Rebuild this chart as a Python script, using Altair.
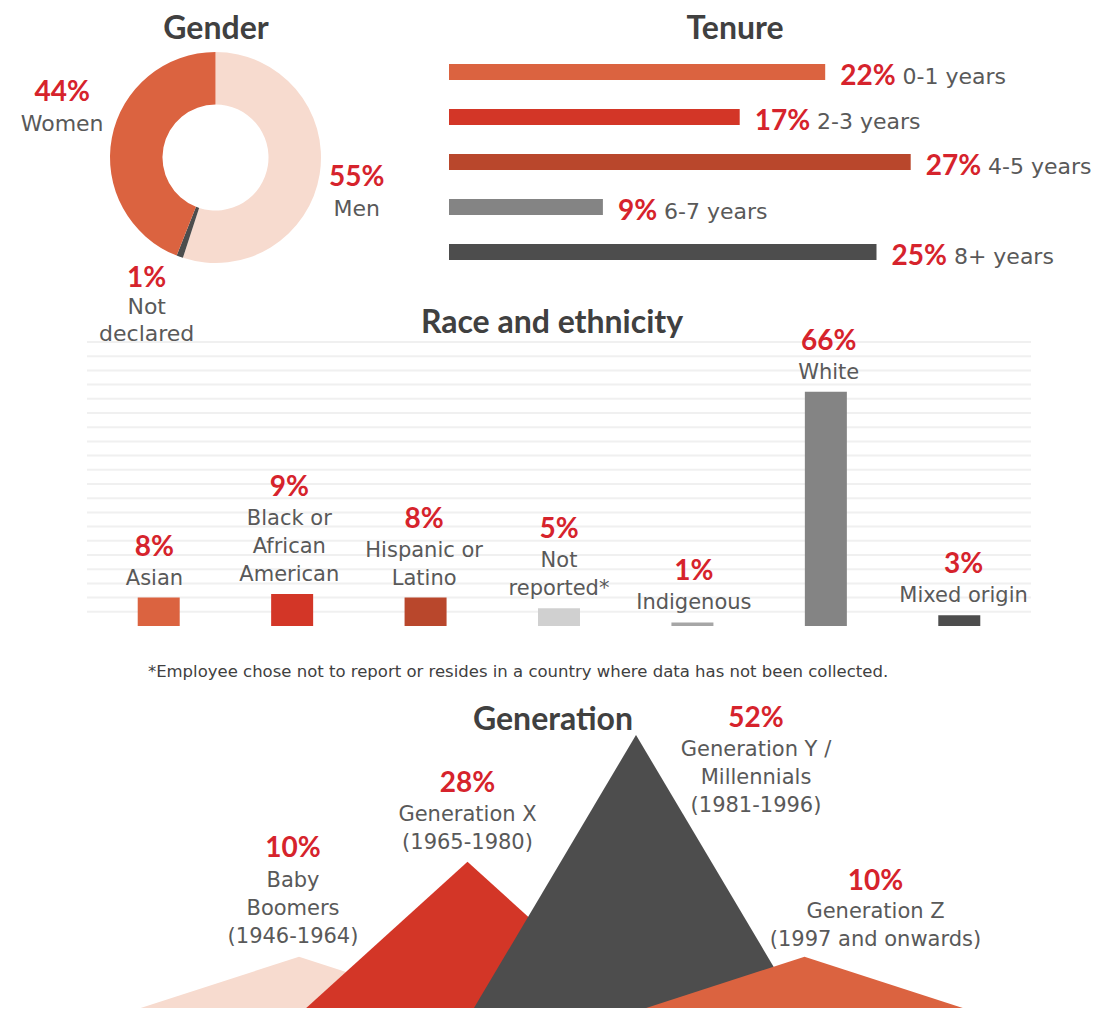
import altair as alt
import pandas as pd

# ---------------- data ----------------
GENDER_CATS = ["Men", "Not declared", "Women"]
GENDER_NAMES = ["Men", "Not\ndeclared", "Women"]
GENDER_PCT = [55, 1, 44]

TENURE_CATS = ["0-1 years", "2-3 years", "4-5 years", "6-7 years", "8+ years"]
TENURE_PCT = [22, 17, 27, 9, 25]

RACE_CATS = ["Asian", "Black or African American", "Hispanic or Latino",
             "Not reported*", "Indigenous", "White", "Mixed origin"]
RACE_NAMES = ["Asian", "Black or\nAfrican\nAmerican", "Hispanic or\nLatino",
              "Not\nreported*", "Indigenous", "White", "Mixed origin"]
RACE_PCT = [8, 9, 8, 5, 1, 66, 3]
RACE_GRID = [4, 8, 12, 16, 20, 24, 28, 32, 36, 40, 44, 48, 52, 56, 60, 64, 68, 72, 76, 80]

GEN_CATS = ["Baby Boomers", "Generation X", "Generation Y", "Generation Z"]
GEN_NAMES = ["Baby\nBoomers\n(1946-1964)", "Generation X\n(1965-1980)",
             "Generation Y /\nMillennials\n(1981-1996)", "Generation Z\n(1997 and onwards)"]
GEN_PCT = [10, 28, 52, 10]

TITLES = ["Gender", "Tenure", "Race and ethnicity", "Generation"]
FOOTNOTE = "*Employee chose not to report or resides in a country where data has not been collected."

# ---------------- styles ----------------
ORANGE, RED_BAR, RUST = "#DB6340", "#D33627", "#B9472C"
GRAY, DARK, PEACH = "#848484", "#4D4D4D", "#F7DBCF"
LIGHT, MID = "#D0D0D0", "#A6A6A6"
GENDER_COLORS = [PEACH, DARK, ORANGE]
TENURE_COLORS = [ORANGE, RED_BAR, RUST, GRAY, DARK]
RACE_COLORS = [ORANGE, RED_BAR, RUST, LIGHT, MID, GRAY, DARK]
GEN_COLORS = [PEACH, RED_BAR, DARK, ORANGE]

PCT_RED = "#D6232C"
TEXT_GRAY = "#595959"
TITLE_GRAY = "#404040"
GRID_COLOR = "#F0F0F0"
BOLD = "Lato"
REG = "DejaVu Sans"
LH = 28  # line height of multi-line labels

# ---------------- layout (chart pixels) ----------------
W, H = 1099, 1000
CX, CY, R_OUT, R_IN, LABEL_R = 207.5, 149.5, 105.5, 53, 150
GENDER_OFF = {  # dx, dy pct, dy name (first line)
    "Women": (-6, -36, -5),
    "Men": (-7, -3, 28),
    "Not declared": (-18, -20, 8),
}
T_DOM, T_RANGE = [0, 30], [441, 954]
T_Y_RANGE = [41.5, 266.5]
R_DOM, R_RANGE = [0, 7], [79, 1023]
R_Y_DOM, R_Y_RANGE = [0, 80], [618, 334]
G_DOM, G_RANGE = [0, 3], [291, 796.5]
G_Y_DOM, G_Y_RANGE = [0, 50], [1001.5, 737.5]
G_HALF = 0.967
GEN_OFF = {  # dx, dy pct, dy name
    "Baby Boomers": (-6, -9.5, -9.5),
    "Generation X": (0, -8, -9),
    "Generation Y": (120, 82, 81),
    "Generation Z": (71, -4.5, -6.5),
}
TITLE_POS = [(208, 21), (727, 21), (544, 315), (545, 712)]
FOOT_POS = (510, 664)


def lin(domain, rng):
    return alt.Scale(domain=domain, range=rng, nice=False, zero=False)


layers = []

# ---------------- Gender donut ----------------
gdf = pd.DataFrame({"cat": GENDER_CATS, "name": GENDER_NAMES, "pct": GENDER_PCT})
gdf["rank"] = range(len(gdf))
gdf["pct_text"] = gdf["pct"].astype(str) + "%"
gdf["mid"] = gdf["pct"].cumsum() - gdf["pct"] / 2

layers.append(
    alt.Chart(gdf).mark_arc(outerRadius=R_OUT, innerRadius=R_IN).encode(
        theta=alt.Theta("pct:Q", stack=True, scale=alt.Scale(domain=[0, 100])),
        order=alt.Order("rank:Q"),
        color=alt.Color("cat:N", scale=alt.Scale(domain=GENDER_CATS, range=GENDER_COLORS), legend=None),
        x=alt.value(CX), y=alt.value(CY),
    )
)
for cat, (dx, dyp, dyn) in GENDER_OFF.items():
    base = alt.Chart(gdf).transform_filter(alt.datum.cat == cat)
    th = alt.Theta("mid:Q", stack=False, scale=alt.Scale(domain=[0, 100]))
    layers.append(base.mark_text(radius=LABEL_R, dx=dx, dy=dyp, baseline="middle", align="center",
                                 font=BOLD, fontWeight="bold", fontSize=28, color=PCT_RED).encode(
        theta=th, text="pct_text:N", x=alt.value(CX), y=alt.value(CY)))
    layers.append(base.mark_text(radius=LABEL_R, dx=dx, dy=dyn, baseline="middle", align="center",
                                 lineBreak="\n", lineHeight=27, font=REG, fontSize=22, color=TEXT_GRAY).encode(
        theta=th, text="name:N", x=alt.value(CX), y=alt.value(CY)))

# ---------------- Tenure bars ----------------
tdf = pd.DataFrame({"cat": TENURE_CATS, "pct": TENURE_PCT})
tdf["pct_text"] = tdf["pct"].astype(str) + "%"
T_PX = (T_RANGE[1] - T_RANGE[0]) / (T_DOM[1] - T_DOM[0])
tx_scale = lin(T_DOM, T_RANGE)
ty = alt.Y("cat:N", scale=alt.Scale(domain=TENURE_CATS, range=T_Y_RANGE, paddingInner=0, paddingOuter=0), axis=None)
layers.append(
    alt.Chart(tdf).mark_bar(height=16).encode(
        x=alt.X("pct:Q", scale=tx_scale, axis=None), y=ty,
        color=alt.Color("cat:N", scale=alt.Scale(domain=TENURE_CATS, range=TENURE_COLORS), legend=None),
    )
)
layers.append(
    alt.Chart(tdf).mark_text(align="left", baseline="middle", dx=15, dy=5, font=BOLD, fontWeight="bold",
                             fontSize=28, color=PCT_RED).encode(
        x=alt.X("pct:Q", scale=tx_scale, axis=None), y=ty, text="pct_text:N")
)
layers.append(
    alt.Chart(tdf).transform_calculate(
        lx=f"datum.pct + (45 + 16.2 * length(toString(datum.pct))) / {T_PX}"
    ).mark_text(align="left", baseline="middle", dy=5, font=REG, fontSize=22, color=TEXT_GRAY).encode(
        x=alt.X("lx:Q", scale=tx_scale, axis=None), y=ty, text="cat:N")
)

# ---------------- Race and ethnicity ----------------
rdf = pd.DataFrame({"cat": RACE_CATS, "name": RACE_NAMES, "pct": RACE_PCT})
rdf["pos"] = rdf.index + 0.5
rdf["pct_text"] = rdf["pct"].astype(str) + "%"
rdf["nl"] = rdf["name"].str.count("\n") + 1
R_PX = (R_Y_RANGE[0] - R_Y_RANGE[1]) / (R_Y_DOM[1] - R_Y_DOM[0])
rx_scale = lin(R_DOM, R_RANGE)
ry_scale = lin(R_Y_DOM, R_Y_RANGE)
rx = alt.X("pos:Q", scale=rx_scale, axis=None)
ry = alt.Y("pct:Q", scale=ry_scale, axis=None)
layers.append(
    alt.Chart(pd.DataFrame({"g": RACE_GRID})).mark_rule(color=GRID_COLOR, strokeWidth=2).encode(
        x=alt.X(datum=R_DOM[0], scale=rx_scale, axis=None), x2=alt.X2(datum=R_DOM[1]),
        y=alt.Y("g:Q", scale=ry_scale, axis=None))
)
layers.append(
    alt.Chart(rdf).mark_bar(width=42).encode(
        x=rx, y=ry,
        color=alt.Color("cat:N", scale=alt.Scale(domain=RACE_CATS, range=RACE_COLORS), legend=None))
)
layers.append(
    alt.Chart(rdf).transform_calculate(ny=f"datum.pct + (datum.nl - 1) * {LH} / {R_PX}")
    .mark_text(baseline="bottom", dy=-9, lineBreak="\n", lineHeight=LH, font=REG,
               fontSize=21, color=TEXT_GRAY).encode(
        x=rx, y=alt.Y("ny:Q", scale=ry_scale, axis=None), text="name:N")
)
layers.append(
    alt.Chart(rdf).transform_calculate(py=f"datum.pct + datum.nl * {LH} / {R_PX}")
    .mark_text(baseline="bottom", dy=-8, font=BOLD, fontWeight="bold", fontSize=28, color=PCT_RED).encode(
        x=rx, y=alt.Y("py:Q", scale=ry_scale, axis=None), text="pct_text:N")
)

# ---------------- Generation ----------------
verts = []
for i, (cat, v) in enumerate(zip(GEN_CATS, GEN_PCT)):
    verts += [{"cat": cat, "gx": i - G_HALF, "gy": 0},
              {"cat": cat, "gx": i, "gy": v},
              {"cat": cat, "gx": i + G_HALF, "gy": 0}]
vdf = pd.DataFrame(verts)
gx_scale = lin(G_DOM, G_RANGE)
gy_scale = lin(G_Y_DOM, G_Y_RANGE)
G_PX = (G_Y_RANGE[0] - G_Y_RANGE[1]) / (G_Y_DOM[1] - G_Y_DOM[0])
for cat, col in zip(GEN_CATS, GEN_COLORS):
    layers.append(
        alt.Chart(vdf).transform_filter(alt.datum.cat == cat).mark_area(color=col, opacity=1).encode(
            x=alt.X("gx:Q", scale=gx_scale, axis=None),
            y=alt.Y("gy:Q", scale=gy_scale, axis=None),
            y2=alt.Y2(datum=0))
    )
gdf2 = pd.DataFrame({"cat": GEN_CATS, "name": GEN_NAMES, "pct": GEN_PCT})
gdf2["pos"] = gdf2.index
gdf2["pct_text"] = gdf2["pct"].astype(str) + "%"
gdf2["nl"] = gdf2["name"].str.count("\n") + 1
for cat, (dx, dyp, dyn) in GEN_OFF.items():
    base = alt.Chart(gdf2).transform_filter(alt.datum.cat == cat)
    gxe = alt.X("pos:Q", scale=gx_scale, axis=None)
    layers.append(
        base.transform_calculate(ny=f"datum.pct + (datum.nl - 1) * {LH} / {G_PX}")
        .mark_text(baseline="bottom", dx=dx, dy=dyn, lineBreak="\n", lineHeight=LH, font=REG,
                   fontSize=21, color=TEXT_GRAY).encode(
            x=gxe, y=alt.Y("ny:Q", scale=gy_scale, axis=None), text="name:N"))
    layers.append(
        base.transform_calculate(py=f"datum.pct + datum.nl * {LH} / {G_PX}")
        .mark_text(baseline="bottom", dx=dx, dy=dyp, font=BOLD, fontWeight="bold",
                   fontSize=28, color=PCT_RED).encode(
            x=gxe, y=alt.Y("py:Q", scale=gy_scale, axis=None), text="pct_text:N"))

# ---------------- titles & footnote ----------------
for t, (px, py) in zip(TITLES, TITLE_POS):
    layers.append(
        alt.Chart(pd.DataFrame({"t": [t]})).mark_text(font=BOLD, fontWeight="bold", fontSize=32,
                                                       color=TITLE_GRAY, baseline="middle").encode(
            text="t:N", x=alt.value(px), y=alt.value(py))
    )
layers.append(
    alt.Chart(pd.DataFrame({"t": [FOOTNOTE]})).mark_text(font=REG, fontSize=16.5, color=TITLE_GRAY,
                                                          baseline="middle").encode(
        text="t:N", x=alt.value(FOOT_POS[0]), y=alt.value(FOOT_POS[1]))
)

chart = alt.layer(*layers).resolve_scale(
    x="independent", y="independent", color="independent", theta="independent"
).properties(
    width=W, height=H, autosize=alt.AutoSizeParams(type="none"), padding=0
).configure_view(stroke=None)

chart.save("out.html", embed_options={"renderer": "svg", "actions": False})
